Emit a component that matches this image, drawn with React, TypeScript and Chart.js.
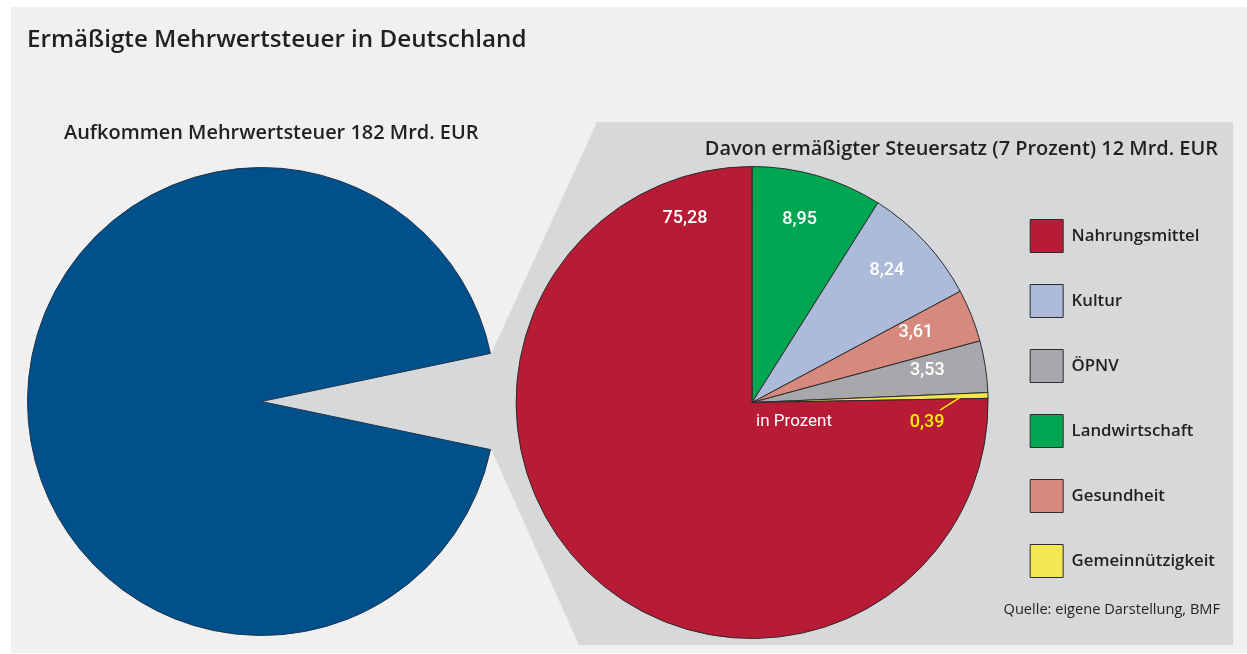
import React, { useEffect, useRef } from 'react';
import { Chart, registerables } from 'chart.js';

Chart.register(...registerables);

// ---------- data ----------
const TITLE = 'Ermäßigte Mehrwertsteuer in Deutschland';
const LEFT_TITLE = 'Aufkommen Mehrwertsteuer 182 Mrd. EUR';
const RIGHT_TITLE = 'Davon ermäßigter Steuersatz (7 Prozent) 12 Mrd. EUR';
const SOURCE = 'Quelle: eigene Darstellung, BMF';
const UNIT_NOTE = 'in Prozent';

// Mehrwertsteuer-Aufkommen in Mrd. EUR: ermäßigter Satz vs. Rest
const totalLabels = ['Ermäßigter Steuersatz', 'Übriges Aufkommen'];
const totalValues = [12, 170];

// Anteile am ermäßigten Satz (Prozent), im Uhrzeigersinn ab 12 Uhr
const categories = ['Landwirtschaft', 'Kultur', 'Gesundheit', 'ÖPNV', 'Gemeinnützigkeit', 'Nahrungsmittel'];
const shares = [8.95, 8.24, 3.61, 3.53, 0.39, 75.28];
const legendOrder = ['Nahrungsmittel', 'Kultur', 'ÖPNV', 'Landwirtschaft', 'Gesundheit', 'Gemeinnützigkeit'];

// ---------- styles ----------
const sliceColors = ['#00a651', '#abbbd9', '#d7897e', '#a7a8ab', '#f5e653', '#b81b36'];
const totalColors = ['rgba(0,0,0,0)', '#00508b'];
const BORDER = '#2b2b2b';
const TEXT = '#231f20';
const BG_OUTER = '#ffffff';
const BG = '#f0f0f0';
const PANEL = '#d7d8da';
const UI_FONT = "'Open Sans', 'Noto Sans', sans-serif";
const NUM_FONT = "Roboto, 'Liberation Sans', sans-serif";
const LEGEND_NUDGE = -4;

const fmt = (v: number) => v.toFixed(2).replace('.', ',');

export default function App() {
  const leftRef = useRef<HTMLCanvasElement | null>(null);
  const rightRef = useRef<HTMLCanvasElement | null>(null);

  useEffect(() => {
    const gapDeg = (totalValues[0] / totalValues.reduce((a, b) => a + b, 0)) * 360;

    const backgroundPlugin = {
      id: 'backgroundPanel',
      beforeDraw(chart: any) {
        const ctx = chart.ctx as CanvasRenderingContext2D;
        const W = chart.width;
        const H = chart.height;
        ctx.save();
        ctx.fillStyle = BG_OUTER;
        ctx.fillRect(0, 0, W, H);
        ctx.fillStyle = BG;
        ctx.fillRect(11, 7, W - 11, H - 8);

        const meta = chart.getDatasetMeta(0);
        const arc = meta.data[0];
        if (arc) {
          const p = arc.getProps(['x', 'y', 'startAngle', 'endAngle', 'outerRadius'], true);
          const r = p.outerRadius + 1;
          const x1 = p.x + r * Math.cos(p.startAngle);
          const y1 = p.y + r * Math.sin(p.startAngle);
          const x2 = p.x + r * Math.cos(p.endAngle);
          const y2 = p.y + r * Math.sin(p.endAngle);
          ctx.fillStyle = PANEL;
          ctx.beginPath();
          ctx.moveTo(p.x, p.y);
          ctx.lineTo(x1, y1);
          ctx.lineTo(597, 122);
          ctx.lineTo(1233, 122);
          ctx.lineTo(1233, 645);
          ctx.lineTo(579, 645);
          ctx.lineTo(x2, y2);
          ctx.closePath();
          ctx.fill();
        }
        ctx.restore();
      },
      afterDraw(chart: any) {
        const ctx = chart.ctx as CanvasRenderingContext2D;
        ctx.save();
        ctx.fillStyle = TEXT;
        ctx.textBaseline = 'alphabetic';
        ctx.textAlign = 'left';
        ctx.font = `600 24.2px ${UI_FONT}`;
        ctx.fillText(TITLE, 27, 47);
        ctx.font = `600 19.95px ${UI_FONT}`;
        ctx.fillText(LEFT_TITLE, 64, 139);
        ctx.textAlign = 'right';
        ctx.fillText(RIGHT_TITLE, 1218, 155);
        ctx.font = `400 14.6px ${UI_FONT}`;
        ctx.fillText(SOURCE, 1220, 614);
        ctx.restore();
      },
    };

    const left = new Chart(leftRef.current!, {
      type: 'pie',
      data: {
        labels: totalLabels,
        datasets: [
          {
            data: totalValues,
            backgroundColor: totalColors,
            borderColor: ['rgba(0,0,0,0)', '#1d3550'],
            borderWidth: [0, 1],
          },
        ],
      },
      options: {
        responsive: false,
        animation: false,
        devicePixelRatio: 1,
        rotation: 90 - gapDeg / 2,
        layout: { padding: { left: 27, top: 167, right: 751, bottom: 18 } },
        plugins: { legend: { display: false }, tooltip: { enabled: false } },
      },
      plugins: [backgroundPlugin],
    });

    const labelPlugin = {
      id: 'sliceLabels',
      afterLayout(chart: any) {
        if (chart.legend) {
          chart.legend.top += LEGEND_NUDGE;
          chart.legend.bottom += LEGEND_NUDGE;
        }
      },
      afterDatasetsDraw(chart: any) {
        const ctx = chart.ctx as CanvasRenderingContext2D;
        const meta = chart.getDatasetMeta(0);
        const values = chart.data.datasets[0].data as number[];
        const maxIdx = values.indexOf(Math.max(...values));
        const deg = Math.PI / 180;
        ctx.save();
        ctx.textAlign = 'center';
        ctx.textBaseline = 'middle';
        let cx = 0;
        let cy = 0;
        meta.data.forEach((arc: any, i: number) => {
          const p = arc.getProps(['x', 'y', 'startAngle', 'endAngle', 'outerRadius'], true);
          cx = p.x;
          cy = p.y;
          const R = p.outerRadius;
          const mid = (p.startAngle + p.endAngle) / 2;
          const text = fmt(values[i]);
          ctx.font = `500 18px ${NUM_FONT}`;
          if (i === maxIdx) {
            const a = p.endAngle - 20 * deg;
            ctx.fillStyle = '#ffffff';
            ctx.fillText(text, p.x + 0.83 * R * Math.cos(a), p.y + 0.83 * R * Math.sin(a));
          } else if (values[i] < 1) {
            const sx = p.x + 0.89 * R * Math.cos(mid);
            const sy = p.y + 0.89 * R * Math.sin(mid);
            ctx.strokeStyle = '#ffed00';
            ctx.lineWidth = 1.5;
            ctx.beginPath();
            ctx.moveTo(sx, sy);
            ctx.lineTo(sx - 22, sy + 14);
            ctx.stroke();
            ctx.fillStyle = '#ffed00';
            ctx.fillText(text, sx - 35, sy + 26);
          } else {
            const a = mid - 1.5 * deg;
            const rr = values[i] > 5 ? 0.8 : 0.755;
            ctx.fillStyle = '#ffffff';
            ctx.fillText(text, p.x + rr * R * Math.cos(a), p.y + rr * R * Math.sin(a));
          }
        });
        ctx.textAlign = 'left';
        ctx.fillStyle = '#ffffff';
        ctx.font = `400 17px ${NUM_FONT}`;
        ctx.fillText(UNIT_NOTE, cx + 4, cy + 19);
        ctx.restore();
      },
    };

    const right = new Chart(rightRef.current!, {
      type: 'pie',
      data: {
        labels: categories,
        datasets: [
          {
            data: shares,
            backgroundColor: sliceColors,
            borderColor: BORDER,
            borderWidth: 1,
          },
        ],
      },
      options: {
        responsive: false,
        animation: false,
        devicePixelRatio: 1,
        layout: { padding: { left: 506, top: 166, right: 22, bottom: 15 } },
        plugins: {
          tooltip: { enabled: false },
          legend: {
            position: 'right',
            align: 'center',
            labels: {
              boxWidth: 33,
              boxHeight: 33,
              padding: 32,
              color: TEXT,
              font: { family: UI_FONT, size: 16.8, weight: '600' },
              sort: (a: any, b: any) => legendOrder.indexOf(a.text) - legendOrder.indexOf(b.text),
            },
          },
        },
      },
      plugins: [labelPlugin],
    });

    return () => {
      left.destroy();
      right.destroy();
    };
  }, []);

  return (
    <div style={{ position: 'fixed', left: 0, top: 0, width: 1247, height: 654, background: BG_OUTER }}>
      <canvas ref={leftRef} width={1247} height={654} style={{ position: 'absolute', left: 0, top: 0 }} />
      <canvas ref={rightRef} width={1247} height={654} style={{ position: 'absolute', left: 0, top: 0 }} />
    </div>
  );
}
